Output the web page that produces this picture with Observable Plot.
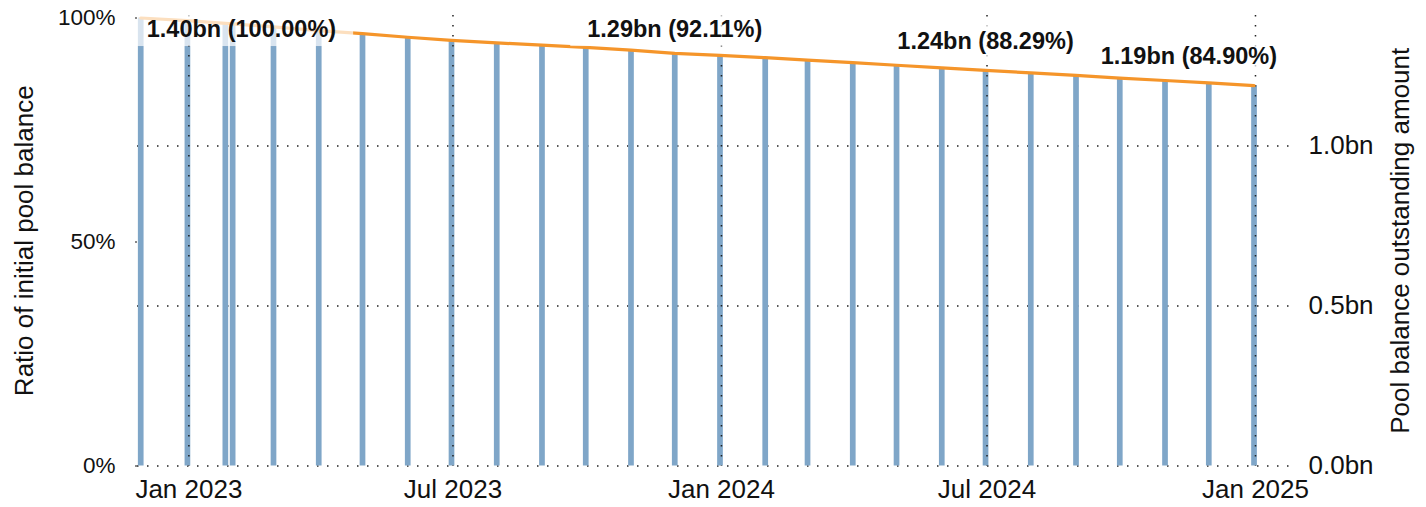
<!DOCTYPE html>
<html>
<head>
<meta charset="utf-8">
<script src="https://cdn.jsdelivr.net/npm/d3@7"></script>
<script src="https://cdn.jsdelivr.net/npm/@observablehq/plot@0.6"></script>
<style>
  body { margin: 0; background: #fff; }
  #chart { width: 1426px; height: 507px; }
</style>
</head>
<body>
<div id="chart"></div>
<script>
// ---- data ----
const dates = [
  "2022-11-29", "2022-12-31", "2023-01-26", "2023-01-31", "2023-02-28", "2023-03-31",
  "2023-04-30", "2023-05-31", "2023-06-30", "2023-07-31", "2023-08-31", "2023-09-30",
  "2023-10-31", "2023-11-30", "2023-12-31", "2024-01-31", "2024-02-29", "2024-03-31",
  "2024-04-30", "2024-05-31", "2024-06-30", "2024-07-31", "2024-08-31", "2024-09-30",
  "2024-10-31", "2024-11-30", "2024-12-31"
];
const ratios = [
  1.0000, 0.9940, 0.9880, 0.9870, 0.9800, 0.9720,
  0.9650, 0.9570, 0.9500, 0.9445, 0.9395, 0.9345,
  0.9285, 0.9211, 0.9165, 0.9115, 0.9060, 0.9005,
  0.8945, 0.8885, 0.8829, 0.8775, 0.8720, 0.8660,
  0.8605, 0.8550, 0.8490
];
const initialBalanceBn = 1.40;
const labelIndices = [0, 13, 20, 26];
const leftTicks = [0, 0.5, 1];
const rightTicksBn = [0, 0.5, 1.0];
const xTickDates = ["2023-01-01", "2023-07-01", "2024-01-01", "2024-07-01", "2025-01-01"];
const leftTitle = "Ratio of initial pool balance";
const rightTitle = "Pool balance outstanding amount";

// ---- derived tables ----
const rows = dates.map((d, i) => ({date: new Date(d), ratio: ratios[i]}));
const labelRows = labelIndices.map(i => ({
  date: rows[i].date,
  ratio: rows[i].ratio,
  labelY: Math.min(rows[i].ratio + 0.065, 0.9743),
  text: `${(initialBalanceBn * rows[i].ratio).toFixed(2)}bn (${(rows[i].ratio * 100).toFixed(2)}%)`
}));
const xTicks = xTickDates.map(d => new Date(d));
const rightTicks = rightTicksBn.map(t => t / initialBalanceBn);

const FONT = '"Liberation Sans", Arial, sans-serif';
const BAR = "#7fa6c8";
const LINE = "#f5952a";
const GRID = {stroke: "#222", strokeWidth: 1.5, strokeDasharray: "1.5,8.5"};
const LABEL = {fontSize: 23.5, fontWeight: "bold", fill: "#111"};

const chart = Plot.plot({
  width: 1426,
  height: 507,
  marginLeft: 137,
  marginRight: 136,
  marginTop: 15,
  marginBottom: 41.5,
  style: {fontFamily: FONT, fontSize: "26px", color: "#111", background: "#fff"},
  x: {type: "utc", domain: [new Date("2022-11-26T19:00:00Z"), new Date("2025-01-25T00:00:00Z")]},
  y: {domain: [0, 1.0056]},
  marks: [
    Plot.ruleY(rightTicks, GRID),
    Plot.ruleX(rows, {x: "date", y1: 0, y2: "ratio", stroke: BAR, strokeWidth: 5.7}),
    Plot.ruleX(xTicks, GRID),
    Plot.line(rows, {x: "date", y: "ratio", stroke: LINE, strokeWidth: 3.2}),
    Plot.text(labelRows.slice(0, 1), {x: "date", y: "labelY", text: "text", textAnchor: "start", dx: 6, ...LABEL}),
    Plot.text(labelRows.slice(1, -1), {x: "date", y: "labelY", text: "text", textAnchor: "middle", ...LABEL}),
    Plot.text(labelRows.slice(-1), {x: "date", y: "labelY", text: "text", textAnchor: "end", dx: 23, ...LABEL}),
    Plot.axisY(leftTicks, {anchor: "left", tickFormat: d => `${Math.round(d * 100)}%`, tickSize: 2, tickPadding: 20, fontSize: 22.5, label: null}),
    Plot.axisY(rightTicks, {anchor: "right", tickFormat: d => `${(d * initialBalanceBn).toFixed(1)}bn`, tickSize: 0, tickPadding: 18, fontSize: 26, label: null}),
    Plot.axisX(xTicks, {tickFormat: d3.utcFormat("%b %Y"), tickSize: 0, tickPadding: 14, fontSize: 26, label: null}),
    Plot.text([leftTitle], {frameAnchor: "left", textAnchor: "middle", lineAnchor: "middle", rotate: -90, dx: -113, fontSize: 26, fill: "#111"}),
    Plot.text([rightTitle], {frameAnchor: "right", textAnchor: "middle", lineAnchor: "middle", rotate: -90, dx: 110, fontSize: 26, fill: "#111"})
  ]
});

document.getElementById("chart").appendChild(chart);

// translucent white boxes behind value labels
const svgNS = "http://www.w3.org/2000/svg";
const labelTexts = new Set(labelRows.map(d => d.text));
Array.from(chart.querySelectorAll("text"))
  .filter(t => labelTexts.has(t.textContent))
  .forEach(t => {
    const b = t.getBBox();
    const r = document.createElementNS(svgNS, "rect");
    const padX = 17, padY = 4;
    r.setAttribute("x", b.x - padX);
    r.setAttribute("y", b.y - padY);
    r.setAttribute("width", b.width + 2 * padX);
    r.setAttribute("height", b.height + 2 * padY);
    r.setAttribute("fill", "#fff");
    r.setAttribute("fill-opacity", "0.7");
    r.setAttribute("stroke", "none");
    const tr = t.getAttribute("transform");
    if (tr) r.setAttribute("transform", tr);
    t.parentNode.insertBefore(r, t);
  });
</script>
</body>
</html>
